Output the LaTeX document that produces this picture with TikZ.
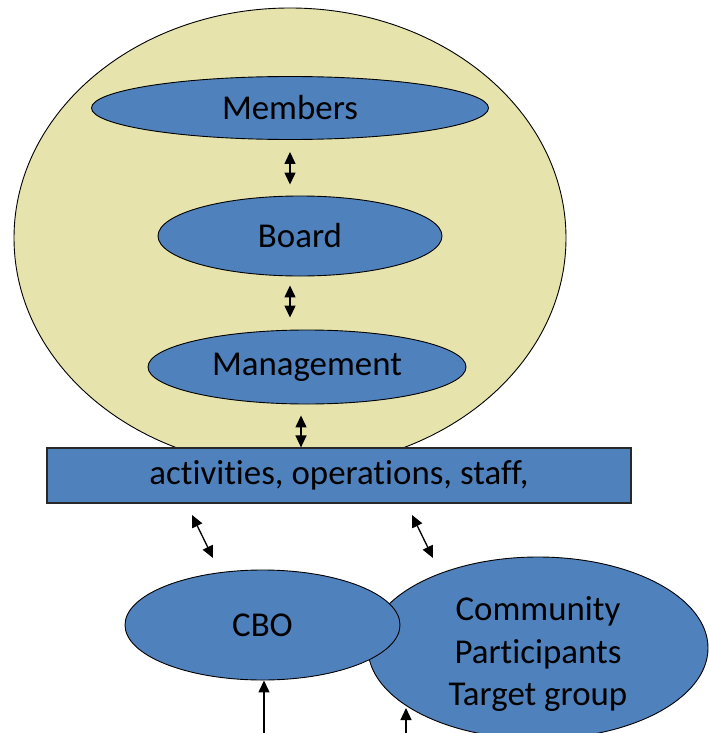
\documentclass[tikz,border=0pt]{standalone}
\usepackage{fontspec}
\setmainfont{Carlito}[Ligatures=NoCommon]
\usetikzlibrary{shapes.geometric,arrows.meta,calc}
\definecolor{paleyellow}{RGB}{230,228,172}
\definecolor{unitblue}{RGB}{79,129,189}
\definecolor{rimgray}{RGB}{40,40,40}
\begin{document}
\begin{tikzpicture}[x=1bp,y=-1bp,
  lbl/.style={font=\fontsize{35}{42}\selectfont,text=black},
  blob/.style={ellipse,draw=black,line width=0.9bp,fill=unitblue,inner sep=0pt,lbl},
  outer/.style={ellipse,draw=black,line width=0.9bp,fill=paleyellow,inner sep=0pt},
  bar/.style={rectangle,draw=rimgray,line width=1.2bp,fill=unitblue,inner sep=0pt,lbl},
  link/.style={line width=1.3bp,{Triangle[length=12bp,width=11bp]}-{Triangle[length=12bp,width=11bp]}},
  feed/.style={line width=1.3bp,-{Triangle[length=12bp,width=11bp]}}]
\clip (0,0) rectangle (710,733);
\fill[white] (0,0) rectangle (710,733);

% organisation: governance levels inside the outer ellipse
\node[outer,minimum width=552bp,minimum height=460bp] (org) at (290,238) {};
\node[blob,minimum width=397bp,minimum height=63bp] (members) at (290,108) {Members};
\node[blob,minimum width=284bp,minimum height=80bp] (board) at (300,236) {Board};
\node[blob,minimum width=318bp,minimum height=74bp] (mgmt) at (307,367) {\raisebox{-2bp}{Management}};

% operational layer
\node[bar,minimum width=584bp,minimum height=55bp] (ops) at (339,475.5) {\raisebox{-2bp}{activities, operations, staff,}};

% outside world
\node[blob,minimum width=340bp,minimum height=182bp,
  label={[lbl,align=center,yshift=-6bp]center:Community\\[0.5bp]Participants\\[0.5bp]Target group}]
  (comm) at (538,648) {};
\node[blob,minimum width=275bp,minimum height=110bp] (cbo) at (262.5,625) {CBO};

% internal links
\coordinate (m1) at (members.south);
\coordinate (m2) at (members.south |- board.north);
\coordinate (k1) at ([xshift=-10bp]board.south);
\coordinate (k2) at (k1 |- mgmt.north);
\coordinate (g1) at ([xshift=-6bp]mgmt.south);
\coordinate (g2) at (g1 |- ops.north);
\draw[link,shorten <=12bp,shorten >=11bp] (m1) -- (m2);
\draw[link,shorten <=9bp,shorten >=12bp] (k1) -- (k2);
\draw[link,shorten <=11bp] (g1) -- (g2);

% links between operations and the outside world
\coordinate (l1) at (192,515);
\coordinate (l2) at (213,558);
\coordinate (r1) at (412,515);
\coordinate (r2) at (433,558);
\draw[link] (l1) -- (l2);
\draw[link] (r1) -- (r2);

% inputs from below
\coordinate (b1) at (264,740);
\coordinate (b1t) at (b1 |- cbo.south);
\coordinate (b2) at (406,740);
\coordinate (b2t) at (406,708);
\draw[feed] (b1) -- (b1t);
\draw[feed] (b2) -- (b2t);
\end{tikzpicture}
\end{document}
